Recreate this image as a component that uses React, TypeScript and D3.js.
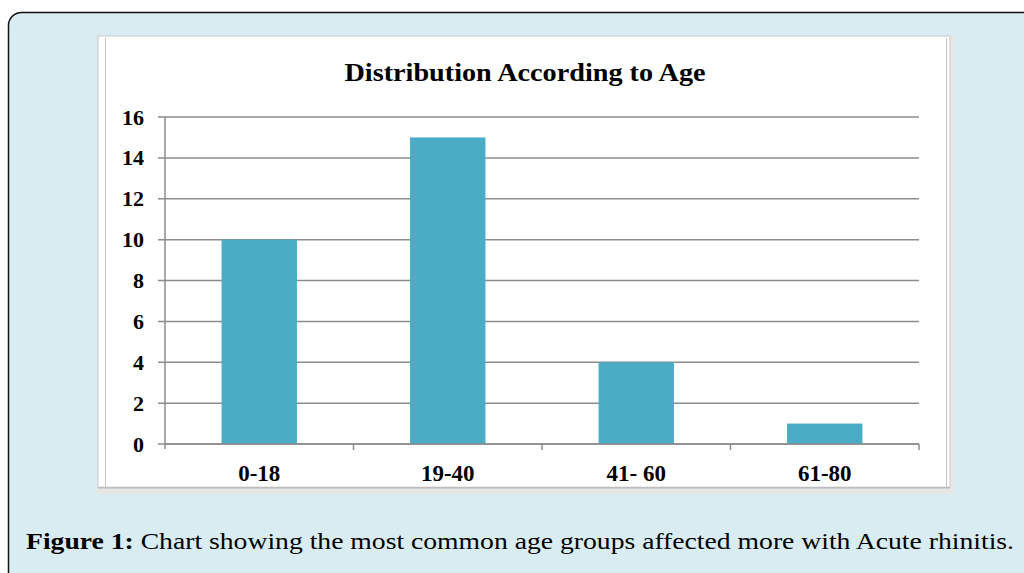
import React from "react";
import * as d3 from "d3";

const categories = ["0-18", "19-40", "41- 60", "61-80"];
const values = [10, 15, 4, 1];
const yTicks = [0, 2, 4, 6, 8, 10, 12, 14, 16];
const title = "Distribution According to Age";
const captionBold = "Figure 1:";
const captionText = " Chart showing the most common age groups affected more with Acute rhinitis.";

export default function App() {
  const W = 1024, H = 573;
  const left = 165, right = 919, top = 117, bottom = 444;
  const x = d3.scaleBand<string>().domain(categories).range([left, right]).paddingInner(0.6).paddingOuter(0.3);
  const xOuter = d3.scaleBand<string>().domain(categories).range([left, right]);
  const y = d3.scaleLinear().domain([0, 16]).range([bottom, top]);
  const serif = "'Liberation Serif', 'Times New Roman', serif";
  return (
    <svg width={W} height={H} style={{ position: "absolute", left: 0, top: 0, display: "block" }}>
      <rect x={0} y={0} width={W} height={H} fill="#ffffff" />
      <rect x={8.5} y={12.5} width={1040} height={600} rx={13} fill="#d8ecf2" stroke="#111" strokeWidth={1.5} />
      {/* chart frame */}
      <rect x={97} y={36} width={858} height={458} fill="#e6e6e6" />
      <rect x={98} y={36} width={852} height={452} fill="#ffffff" stroke="#c8c8c8" strokeWidth={1} />
      <line x1={105.5} y1={38} x2={105.5} y2={487} stroke="#c4c4c4" strokeWidth={1} />
      <line x1={946.5} y1={38} x2={946.5} y2={487} stroke="#c4c4c4" strokeWidth={1} />
      <line x1={98} y1={487.5} x2={950} y2={487.5} stroke="#bdbdbd" strokeWidth={1.5} />
      <text x={525} y={81} textAnchor="middle" fontFamily={serif} fontWeight="bold" fontSize={25} fill="#000" textLength={361} lengthAdjust="spacingAndGlyphs">{title}</text>
      {/* gridlines and y ticks */}
      {yTicks.map((t) => (
        <g key={t}>
          <line x1={158} x2={right} y1={y(t)} y2={y(t)} stroke="#8c8c8c" strokeWidth={1.5} />
          <text x={144} y={y(t) + 7.5} textAnchor="end" fontFamily={serif} fontWeight="bold" fontSize={22} fill="#000">{t}</text>
        </g>
      ))}
      {/* bars */}
      {categories.map((c, i) => (
        <rect key={c} x={x(c)} y={y(values[i])} width={x.bandwidth()} height={y(0) - y(values[i])} fill="#4bacc6" />
      ))}
      {/* axes */}
      <line x1={left} x2={left} y1={top} y2={bottom + 5} stroke="#8c8c8c" strokeWidth={1.5} />
      <line x1={left} x2={right} y1={bottom} y2={bottom} stroke="#8c8c8c" strokeWidth={1.5} />
      {categories.map((c) => (
        <line key={"t" + c} x1={(xOuter(c) as number) + xOuter.bandwidth()} x2={(xOuter(c) as number) + xOuter.bandwidth()} y1={bottom} y2={bottom + 6} stroke="#8c8c8c" strokeWidth={1.5} />
      ))}
      {categories.map((c) => (
        <text key={"l" + c} x={(x(c) as number) + x.bandwidth() / 2} y={481} textAnchor="middle" fontFamily={serif} fontWeight="bold" fontSize={23} fill="#000">{c}</text>
      ))}
      <text x={26} y={549} fontFamily={serif} fontSize={24} fill="#000" textLength={988} lengthAdjust="spacingAndGlyphs">
        <tspan fontWeight="bold">{captionBold}</tspan>
        <tspan>{captionText}</tspan>
      </text>
    </svg>
  );
}
